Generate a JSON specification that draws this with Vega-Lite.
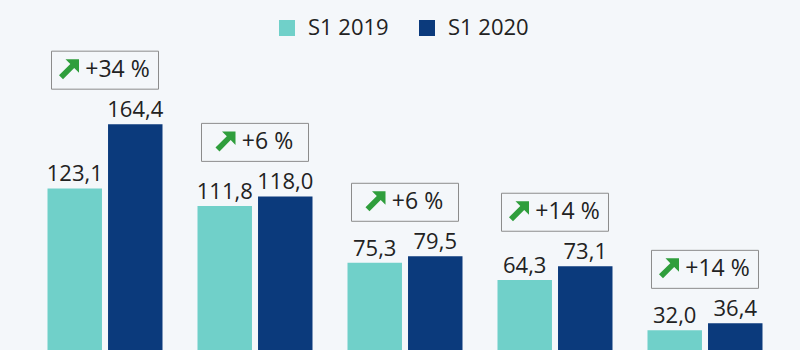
{
  "$schema": "https://vega.github.io/schema/vega-lite/v6.json",
  "width": 800,
  "height": 380,
  "autosize": "none",
  "padding": 0,
  "background": "#f4f7fa",
  "config": {
    "view": {"stroke": null},
    "font": "Open Sans",
    "locale": {"number": {"decimal": ",", "thousands": ".", "grouping": [3], "currency": ["", " €"]}}
  },
  "data": {
    "values": [
      {"cat": "A", "period": "S1 2019", "value": 123.1, "change": "+34 %"},
      {"cat": "A", "period": "S1 2020", "value": 164.4, "change": "+34 %"},
      {"cat": "B", "period": "S1 2019", "value": 111.8, "change": "+6 %"},
      {"cat": "B", "period": "S1 2020", "value": 118.0, "change": "+6 %"},
      {"cat": "C", "period": "S1 2019", "value": 75.3, "change": "+6 %"},
      {"cat": "C", "period": "S1 2020", "value": 79.5, "change": "+6 %"},
      {"cat": "D", "period": "S1 2019", "value": 64.3, "change": "+14 %"},
      {"cat": "D", "period": "S1 2020", "value": 73.1, "change": "+14 %"},
      {"cat": "E", "period": "S1 2019", "value": 32.0, "change": "+14 %"},
      {"cat": "E", "period": "S1 2020", "value": 36.4, "change": "+14 %"}
    ]
  },
  "encoding": {
    "x": {"field": "cat", "type": "nominal", "axis": null, "sort": null,
          "scale": {"range": [30, 780], "paddingInner": 0.2333, "paddingOuter": 0.1167}}
  },
  "layer": [
    {
      "mark": {"type": "bar"},
      "encoding": {
        "xOffset": {"field": "period", "type": "nominal", "scale": {"paddingInner": 0.1, "paddingOuter": 0}},
        "y": {"field": "value", "type": "quantitative", "axis": null, "scale": {"domain": [0, 244.2], "nice": false, "zero": true}},
        "color": {
          "field": "period", "type": "nominal",
          "scale": {"domain": ["S1 2019", "S1 2020"], "range": ["#70d0c9", "#0b3a7c"]},
          "legend": {
            "title": null, "orient": "none", "legendX": 276, "legendY": 17, "direction": "horizontal",
            "symbolType": "square", "symbolSize": 256, "symbolStrokeWidth": 0, "symbolOpacity": 1,
            "labelFontSize": 22, "labelFont": "Open Sans", "labelColor": "#222222",
            "labelOffset": 10, "columnPadding": 27, "padding": 0
          }
        }
      }
    },
    {
      "mark": {"type": "text", "align": "center", "baseline": "alphabetic", "dy": -7, "fontSize": 22, "color": "#222222", "font": "Open Sans"},
      "encoding": {
        "xOffset": {"field": "period", "type": "nominal"},
        "y": {"field": "value", "type": "quantitative"},
        "text": {"field": "value", "type": "quantitative", "format": ".1f"}
      }
    },
    {
      "transform": [{"aggregate": [{"op": "max", "field": "value", "as": "top"}], "groupby": ["cat", "change"]}],
      "layer": [
        {
          "mark": {"type": "bar", "width": 107, "fill": "#f4f7fa", "stroke": "#8c8c8c", "strokeWidth": 1, "yOffset": -73, "y2Offset": -35},
          "encoding": {
            "y": {"field": "top", "type": "quantitative"},
            "y2": {"field": "top"}
          }
        },
        {
          "transform": [{"filter": "length(datum.change) > 4"}],
          "mark": {"type": "point", "filled": true, "opacity": 1, "size": 400, "color": "#2f9e3c", "strokeWidth": 0,
                   "shape": "M 1 -1 L 1 0.35 L 0.52 -0.13 L -0.6 1 L -1 0.6 L 0.13 -0.52 L -0.35 -1 Z",
                   "xOffset": -36, "yOffset": -55},
          "encoding": {"y": {"field": "top", "type": "quantitative"}}
        },
        {
          "transform": [{"filter": "length(datum.change) <= 4"}],
          "mark": {"type": "point", "filled": true, "opacity": 1, "size": 400, "color": "#2f9e3c", "strokeWidth": 0,
                   "shape": "M 1 -1 L 1 0.35 L 0.52 -0.13 L -0.6 1 L -1 0.6 L 0.13 -0.52 L -0.35 -1 Z",
                   "xOffset": -29.5, "yOffset": -55},
          "encoding": {"y": {"field": "top", "type": "quantitative"}}
        },
        {
          "mark": {"type": "text", "align": "center", "baseline": "middle", "fontSize": 23, "color": "#222222", "font": "Open Sans", "xOffset": 12.5, "yOffset": -54},
          "encoding": {
            "y": {"field": "top", "type": "quantitative"},
            "text": {"field": "change", "type": "nominal"}
          }
        }
      ]
    }
  ]
}
